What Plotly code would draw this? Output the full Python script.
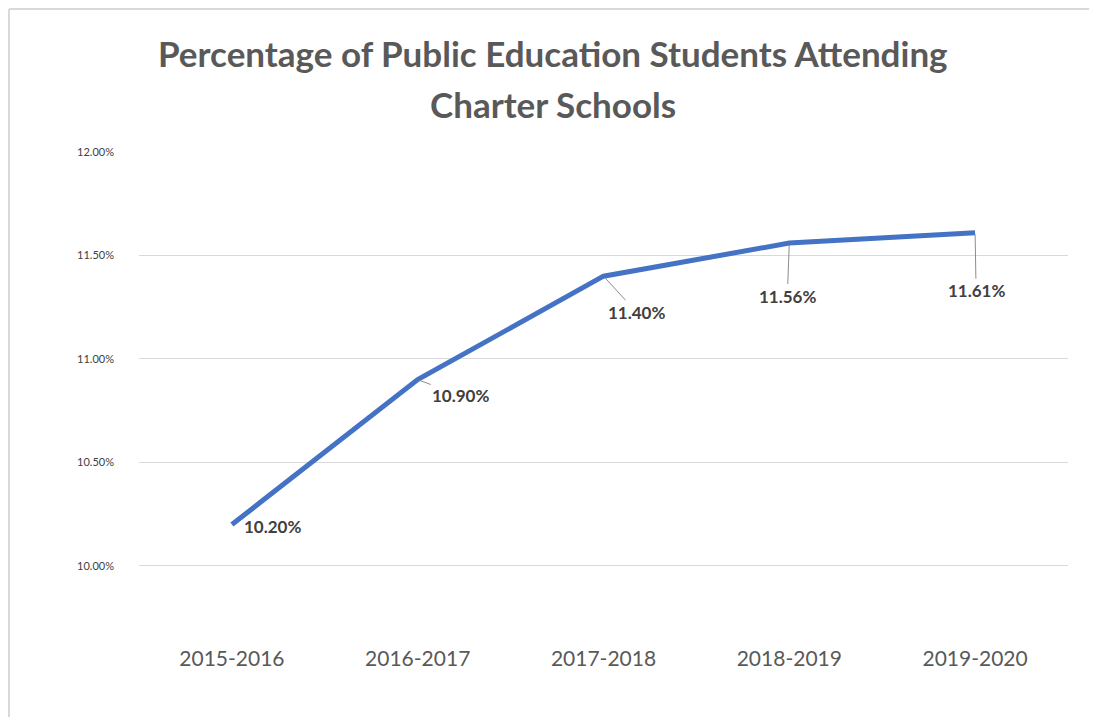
import plotly.graph_objects as go

years = ["2015-2016", "2016-2017", "2017-2018", "2018-2019", "2019-2020"]
pct = [10.20, 10.90, 11.40, 11.56, 11.61]
ytick_vals = [10.0, 10.5, 11.0, 11.5, 12.0]
ytick_text = ["10.00%", "10.50%", "11.00%", "11.50%", "12.00%"]
title_lines = ["Percentage of Public Education Students Attending", "Charter Schools"]

# label placement (pixel offsets of label centre from point) and leader-line flag
label_dx = [41, 43, 33, -2, 1]
label_dy = [2, 16, 36, 53, 58]
leader = [False, True, True, True, True]

font_family = "Lato, Open Sans, sans-serif"

# page has an 8px body margin, so the figure fits inside 1081x709
W, H = 1081, 709
ML, MR, MT, MB = 131, 21, 144, 89
PW, PH = W - ML - MR, H - MT - MB

fig = go.Figure()
fig.add_trace(go.Scatter(
    x=years, y=pct, mode="lines",
    line=dict(color="#4472C4", width=5),
    hoverinfo="skip", showlegend=False,
))

annotations = []
for i, (yr, v) in enumerate(zip(years, pct)):
    annotations.append(dict(
        x=yr, y=v, xref="x", yref="y",
        text=f"<b>{v:.2f}%</b>", showarrow=True,
        arrowhead=0, arrowwidth=1,
        arrowcolor="#8c8c8c" if leader[i] else "rgba(0,0,0,0)",
        ax=label_dx[i], ay=label_dy[i], standoff=2,
        font=dict(family=font_family, size=17, color="#404040"),
    ))

title_y = [45, 96]
title_cx = 545
for line, ty in zip(title_lines, title_y):
    annotations.append(dict(
        x=(title_cx - ML) / PW, xref="paper",
        y=1 + (MT - ty) / PH, yref="paper", yanchor="middle",
        xanchor="center", showarrow=False, text=f"<b>{line}</b>",
        font=dict(family=font_family, size=35, color="#595959"),
    ))

frame_style = dict(color="#d9d9d9", width=2)
fig.update_layout(
    width=W, height=H,
    paper_bgcolor="white", plot_bgcolor="white",
    margin=dict(l=ML, r=MR, t=MT, b=MB, autoexpand=False),
    xaxis=dict(type="category", range=[-0.5, 4.5], showgrid=False, showline=False,
               zeroline=False, ticks="", ticklabelstandoff=16,
               tickfont=dict(family=font_family, size=21, color="#595959")),
    yaxis=dict(range=[9.70, 12.0], tickvals=ytick_vals, ticktext=ytick_text,
               showgrid=True, gridcolor="#d9d9d9", gridwidth=1, zeroline=False,
               showline=False, ticks="", ticklabelstandoff=24,
               tickfont=dict(family=font_family, size=11, color="#404040")),
    annotations=annotations,
    shapes=[
        dict(type="line", xref="paper", yref="paper",
             x0=(1 - ML) / PW, x1=(1 - ML) / PW, y0=-MB / PH, y1=1 + (MT - 1) / PH,
             line=frame_style, layer="below"),
        dict(type="line", xref="paper", yref="paper",
             x0=(1 - ML) / PW, x1=1 + MR / PW, y0=1 + (MT - 1) / PH, y1=1 + (MT - 1) / PH,
             line=frame_style, layer="below"),
    ],
)

fig.write_html("out.html")
